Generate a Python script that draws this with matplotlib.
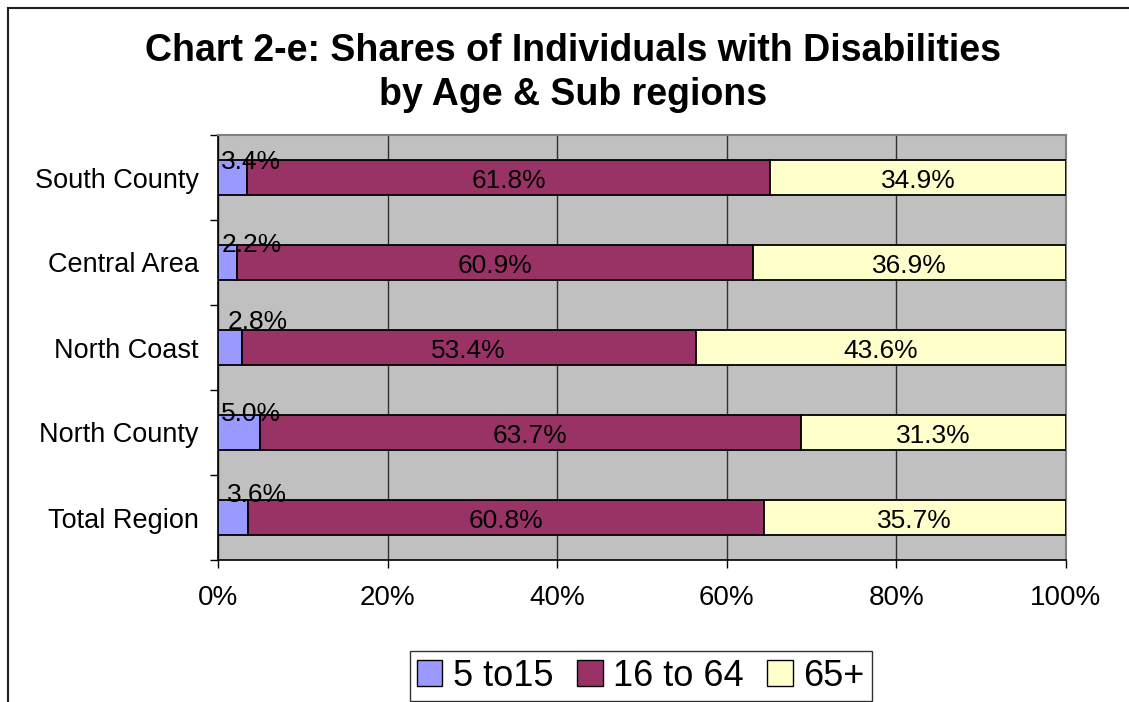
import matplotlib
matplotlib.use("Agg")
import matplotlib.pyplot as plt
from matplotlib.lines import Line2D
from matplotlib.patches import Patch

categories = ["South County", "Central Area", "North Coast", "North County", "Total Region"]
age_5_15 = [3.4, 2.2, 2.8, 5.0, 3.6]
age_16_64 = [61.8, 60.9, 53.4, 63.7, 60.8]
age_65 = [34.9, 36.9, 43.6, 31.3, 35.7]
series_names = ["5 to15", "16 to 64", "65+"]
colors = ["#9999FF", "#993366", "#FFFFCC"]
xticks = [0, 20, 40, 60, 80, 100]

plt.rcParams['font.family'] = ['Liberation Sans', 'DejaVu Sans']

W, H = 1129, 702
fig = plt.figure(figsize=(W / 100, H / 100), dpi=100)
ax = fig.add_axes([218 / W, 1 - 560 / H, (1066 - 218) / W, (560 - 135) / H])
ax.set_facecolor("#C0C0C0")

ys = list(range(len(categories)))
bh = 0.42
lefts = [0] * len(categories)
totals = [a + b + c for a, b, c in zip(age_5_15, age_16_64, age_65)]
bars = []
for vals, col in zip([age_5_15, age_16_64, age_65], colors):
    widths = [v / t * 100 for v, t in zip(vals, totals)]
    ax.barh(ys, widths, left=lefts, height=bh, color=col, edgecolor="black", linewidth=1.3, zorder=3)
    bars.append((vals, widths, list(lefts)))
    lefts = [l + w for l, w in zip(lefts, widths)]

small_dy = [-0.03, 0.0, 0.09, 0.01, 0.06]
small_dx = [0.4, 0.4, 1.1, 0.4, 1.1]
for i, y in enumerate(ys):
    ax.text(small_dx[i], y - bh / 2 - small_dy[i], f"{age_5_15[i]:.1f}%", ha="left", va="center",
            fontsize=19, color="black", zorder=5)
for vals, widths, ls in bars[1:]:
    for i, y in enumerate(ys):
        ax.text(ls[i] + widths[i] / 2, y + 0.04, f"{vals[i]:.1f}%", ha="center", va="center",
                fontsize=19, color="black", zorder=5)

ax.set_xlim(0, 100)
ax.set_ylim(len(categories) - 0.5, -0.5)
ax.set_xticks(xticks)
ax.set_xticklabels([f"{x}%" for x in xticks], fontsize=20)
ax.set_yticks(ys)
ax.set_yticklabels(categories, fontsize=19.5)
ax.set_yticks([i - 0.5 for i in range(len(categories) + 1)], minor=True)
ax.tick_params(axis="y", which="major", length=0, pad=14)
ax.tick_params(axis="y", which="minor", length=6, width=1, color="black", direction="out")
ax.tick_params(axis="x", which="major", length=6, width=1, color="black", direction="out", pad=12)
ax.grid(axis="x", color="#303030", linewidth=1, zorder=1)
ax.set_axisbelow(True)
for s in ["top", "right"]:
    ax.spines[s].set_color("#808080")
    ax.spines[s].set_linewidth(1.5)
for s in ["left", "bottom"]:
    ax.spines[s].set_color("black")
    ax.spines[s].set_linewidth(1.2)

fig.text(573 / W, 1 - 73 / H, "Chart 2-e: Shares of Individuals with Disabilities\nby Age & Sub regions",
         ha="center", va="center", fontsize=27, fontweight="bold", linespacing=1.3)

handles = [Patch(facecolor=c, edgecolor="black", linewidth=1.0) for c in colors]
leg = fig.legend(handles, series_names, loc="center", bbox_to_anchor=(641 / W, 1 - 676 / H), ncol=3,
                 fontsize=26, frameon=True, fancybox=False, edgecolor="black",
                 handlelength=0.7, handleheight=0.7, handletextpad=0.3, columnspacing=0.65,
                 borderpad=0.2)
leg.get_frame().set_linewidth(1.0)

fig.add_artist(Line2D([8 / W, 1], [1 - 8 / H, 1 - 8 / H], transform=fig.transFigure, color="#202020", linewidth=1.5))
fig.add_artist(Line2D([8 / W, 8 / W], [1 - 8 / H, 0], transform=fig.transFigure, color="#202020", linewidth=1.5))

fig.savefig("out.png", dpi=100)
